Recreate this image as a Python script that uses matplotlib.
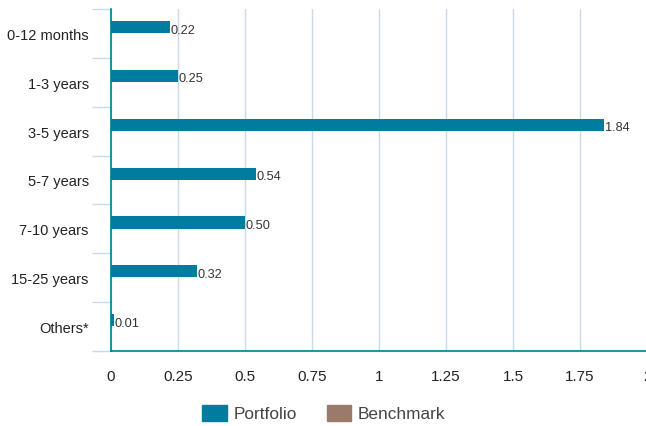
import numpy as np
import matplotlib
matplotlib.use("Agg")
import matplotlib.pyplot as plt
from matplotlib.patches import Patch

plt.rcParams['font.family'] = ['Liberation Sans', 'DejaVu Sans']

categories = ["0-12 months", "1-3 years", "3-5 years", "5-7 years",
              "7-10 years", "15-25 years", "Others*"]
portfolio = [0.22, 0.25, 1.84, 0.54, 0.50, 0.32, 0.01]
benchmark = [0, 0, 0, 0, 0, 0, 0]
xticks = [0, 0.25, 0.5, 0.75, 1, 1.25, 1.5, 1.75, 2]
xticklabels = ["0", "0.25", "0.5", "0.75", "1", "1.25", "1.5", "1.75", "2"]

teal = "#007c9e"
brown = "#9a7b6a"
grid_col = "#c9d8ea"

fig = plt.figure(figsize=(6.46, 4.27), dpi=100)
ax = fig.add_axes([111 / 646, 1 - 352 / 427, 536 / 646, 342 / 427])

y = np.arange(len(categories))
h = 0.25
ax.barh(y - 0.13, portfolio, height=h, color=teal, zorder=3)
ax.barh(y + 0.15, benchmark, height=h, color=brown, zorder=3)

for yi, v in zip(y, portfolio):
    ax.text(v + 0.003, yi - 0.08, f"{v:.2f}", va="center", ha="left",
            fontsize=9.2, color="#333333", zorder=4)

ax.set_xlim(0, 2)
ax.set_ylim(len(categories) - 0.5, -0.5)
ax.set_xticks(xticks)
ax.set_xticklabels(xticklabels)
ax.set_yticks(y)
ax.set_yticklabels(categories)
ax.set_yticks(np.arange(-0.5, len(categories)), minor=True)

ax.tick_params(axis="x", length=0, pad=13, labelsize=11, labelcolor="#222222")
ax.tick_params(axis="y", which="major", length=0, pad=16, labelsize=10.5,
               labelcolor="#222222")
ax.tick_params(axis="y", which="minor", length=14, width=1, color=grid_col)

ax.grid(axis="x", color=grid_col, linewidth=1, zorder=0)
for s in ["top", "right"]:
    ax.spines[s].set_visible(False)
ax.spines["left"].set_color(teal)
ax.spines["bottom"].set_color(teal)
ax.spines["left"].set_linewidth(1.2)
ax.spines["bottom"].set_linewidth(1.2)
ax.spines["left"].set_zorder(5)
ax.spines["bottom"].set_zorder(5)

handles = [Patch(color=teal, label="Portfolio"),
           Patch(color=brown, label="Benchmark")]
fig.legend(handles=handles, loc="center", bbox_to_anchor=(324 / 646, 1 - 414 / 427),
           ncol=2, frameon=False, fontsize=12.4, handlelength=1.4, handleheight=1.05,
           handletextpad=0.4, columnspacing=1.75, labelcolor="#444444")

fig.savefig("out.png", dpi=100)
